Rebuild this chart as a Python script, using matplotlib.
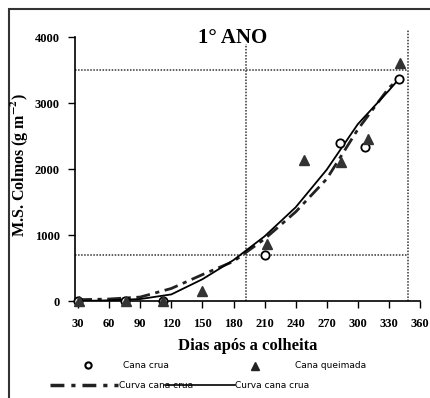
import numpy as np
import matplotlib.pyplot as plt
from matplotlib.lines import Line2D
from matplotlib.patches import Rectangle

# Dados do 1o ano (materia seca dos colmos, g m-2)
dias_crua = [30, 75, 112, 210, 283, 307, 340]
ms_crua = [0, 0, 0, 700, 2390, 2330, 3370]

dias_queimada = [31, 76, 112, 150, 212, 248, 284, 310, 341]
ms_queimada = [0, 0, 0, 150, 860, 2130, 2100, 2460, 3610]

# Curvas ajustadas
dias_curva_tracejada = [30, 60, 90, 120, 150, 180, 210, 240, 270, 300, 330, 342]
curva_tracejada = [20, 30, 60, 190, 400, 600, 940, 1350, 1850, 2600, 3230, 3400]

dias_curva_solida = [30, 60, 90, 120, 150, 180, 210, 240, 270, 300, 330, 340]
curva_solida = [0, 10, 30, 100, 330, 620, 980, 1420, 1990, 2680, 3190, 3370]

x_ticks = [30, 60, 90, 120, 150, 180, 210, 240, 270, 300, 330, 360]
y_ticks = [0, 1000, 2000, 3000, 4000]

plt.rcParams['font.family'] = ['Liberation Serif', 'DejaVu Serif']
plt.rcParams['mathtext.fontset'] = 'stix'

fig = plt.figure(figsize=(4.3, 3.98), dpi=100)
ax = fig.add_axes([0.1744, 0.2437, 0.8023, 0.6633])

# linhas pontilhadas de referencia
pontilhado = dict(color='#333333', linestyle=(0, (1.0, 1.0)), lw=1.1)
ax.plot([27, 348], [3500, 3500], **pontilhado)
ax.plot([27, 348], [700, 700], **pontilhado)
ax.plot([192, 192], [0, 3900], clip_on=False, **pontilhado)
ax.plot([348, 348], [0, 4100], clip_on=False, **pontilhado)

ax.plot(dias_curva_tracejada, curva_tracejada, color='#222222', lw=2.0,
        linestyle=(0, (5, 2, 1.5, 2)), zorder=3)
ax.plot(dias_curva_solida, curva_solida, color='black', lw=1.3, zorder=3)

ax.plot(dias_crua, ms_crua, 'o', ms=6, mfc='white', mec='black', mew=1.3,
        clip_on=False, zorder=4)
ax.plot(dias_queimada, ms_queimada, '^', ms=7, color='#333333',
        clip_on=False, zorder=5)

ax.set_xlim(27, 360)
ax.set_ylim(0, 4000)
ax.set_xticks(x_ticks)
ax.set_yticks(y_ticks)
ax.tick_params(axis='both', labelsize=9, width=1, length=5)
ax.tick_params(axis='x', pad=7)
ax.tick_params(axis='y', pad=6)
for lbl in ax.get_xticklabels() + ax.get_yticklabels():
    lbl.set_fontweight('bold')
ax.spines['top'].set_visible(False)
ax.spines['right'].set_visible(False)
ax.spines['left'].set_linewidth(1.2)
ax.spines['bottom'].set_linewidth(1.2)

ax.set_xlabel('Dias após a colheita', fontsize=12, fontweight='bold', labelpad=6)
fig.text(0.047, 0.585, 'M.S. Colmos (g m$\\mathbf{^{-2}}$)', rotation=90,
         fontsize=11.5, fontweight='bold', ha='center', va='center')
fig.text(0.54, 0.905, '1° ANO', fontsize=15, fontweight='bold',
         ha='center', va='center')

# legenda montada a mao
def fx(px):
    return px / 430

def fy(py):
    return 1 - py / 398

fig.add_artist(Line2D([fx(88)], [fy(365)], marker='o', ms=4.5, mfc='white',
                      mec='black', mew=1.5, transform=fig.transFigure))
fig.add_artist(Line2D([fx(255)], [fy(366)], marker='^', ms=5.5, color='#222222',
                      transform=fig.transFigure))
fig.add_artist(Line2D([fx(50), fx(118)], [fy(385), fy(385)], color='#222222', lw=2.5,
                      linestyle=(0, (4, 2, 1.2, 2)), transform=fig.transFigure))
fig.add_artist(Line2D([fx(165), fx(235)], [fy(385), fy(385)], color='black', lw=1.2,
                      transform=fig.transFigure))
leg_font = dict(fontsize=6.5, family='DejaVu Sans', va='center')
fig.text(fx(123), fy(365), 'Cana crua', **leg_font)
fig.text(fx(295), fy(365), 'Cana queimada', **leg_font)
fig.text(fx(119), fy(385), 'Curva cana crua', **leg_font)
fig.text(fx(235), fy(385), 'Curva cana crua', **leg_font)

# moldura da figura
fig.add_artist(Rectangle((fx(9), fy(420)), fx(440), fy(9) - fy(420), fill=False,
                         lw=1.5, edgecolor='#333333', transform=fig.transFigure,
                         clip_on=False))

fig.savefig('out.png', dpi=100)
